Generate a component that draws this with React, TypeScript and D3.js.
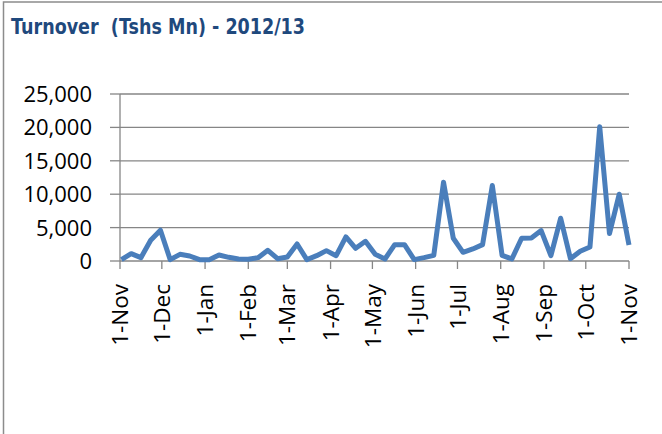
import React from "react";
import * as d3 from "d3";

const title = "Turnover  (Tshs Mn) - 2012/13";

const dates = [
  "2012-11-02", "2012-11-09", "2012-11-16", "2012-11-23", "2012-11-30",
  "2012-12-07", "2012-12-14", "2012-12-21", "2012-12-28",
  "2013-01-04", "2013-01-11", "2013-01-18", "2013-01-25",
  "2013-02-01", "2013-02-08", "2013-02-15", "2013-02-22",
  "2013-03-01", "2013-03-08", "2013-03-15", "2013-03-22", "2013-03-29",
  "2013-04-05", "2013-04-12", "2013-04-19", "2013-04-26",
  "2013-05-03", "2013-05-10", "2013-05-17", "2013-05-24", "2013-05-31",
  "2013-06-07", "2013-06-14", "2013-06-21", "2013-06-28",
  "2013-07-05", "2013-07-12", "2013-07-19", "2013-07-26",
  "2013-08-02", "2013-08-09", "2013-08-16", "2013-08-23", "2013-08-30",
  "2013-09-06", "2013-09-13", "2013-09-20", "2013-09-27",
  "2013-10-04", "2013-10-11", "2013-10-18", "2013-10-25",
  "2013-11-01",
];

const turnover = [
  200, 1100, 500, 3100, 4600,
  200, 1000, 750, 200,
  200, 900, 550, 300,
  250, 500, 1600, 350,
  600, 2550, 200, 800, 1550,
  800, 3600, 1900, 2950,
  1000, 300, 2450, 2450, 200,
  500, 850, 11800, 3400,
  1300, 1800, 2450, 11300,
  850, 300, 3400, 3450, 4550,
  800, 6400, 350, 1450,
  2100, 20100, 4100, 10000,
  2400,
];

const xTickDates = [
  "2012-11-01", "2012-12-01", "2013-01-01", "2013-02-01", "2013-03-01",
  "2013-04-01", "2013-05-01", "2013-06-01", "2013-07-01", "2013-08-01",
  "2013-09-01", "2013-10-01", "2013-11-01",
];

const yTicks = [0, 5000, 10000, 15000, 20000, 25000];

export default function App() {
  const parse = d3.timeParse("%Y-%m-%d");
  const fmtDate = d3.timeFormat("%-d-%b");
  const fmtNum = d3.format(",");

  const x = d3
    .scaleTime()
    .domain([parse("2012-11-01")!, parse("2013-11-01")!])
    .range([120, 629]);
  const y = d3.scaleLinear().domain([0, 25000]).range([261, 94]);

  const pts = dates.map((d, i) => ({ date: parse(d)!, v: turnover[i] }));
  const line = d3
    .line<{ date: Date; v: number }>()
    .x((d) => x(d.date))
    .y((d) => y(d.v));

  const axisColor = "#868686";
  const labelFont = "'Open Sans', 'Noto Sans', sans-serif";

  return (
    <svg
      width={662}
      height={434}
      style={{ position: "absolute", left: 0, top: 0, background: "#fff" }}
    >
      <rect x={0} y={0} width={662} height={434} fill="#fff" />
      {/* frame */}
      <rect
        x={3.5}
        y={2}
        width={700}
        height={500}
        fill="none"
        stroke="#8c8c8c"
        strokeWidth={1.5}
      />
      <text
        x={11}
        y={34}
        fontFamily="'DejaVu Sans', sans-serif"
        fontWeight="bold"
        fontSize={21.5}
        fill="#1F497D"
        textLength={294}
        lengthAdjust="spacingAndGlyphs"
        style={{ whiteSpace: "pre" }}
      >
        {title}
      </text>

      {/* gridlines */}
      {yTicks
        .filter((t) => t > 0)
        .map((t) => (
          <line
            key={"g" + t}
            x1={120}
            x2={629}
            y1={y(t)}
            y2={y(t)}
            stroke={axisColor}
            strokeWidth={1.3}
          />
        ))}
      {/* y axis */}
      <line x1={120} x2={120} y1={y(25000)} y2={y(0)} stroke={axisColor} strokeWidth={1.3} />
      {yTicks.map((t) => (
        <g key={"y" + t}>
          <line x1={110} x2={120} y1={y(t)} y2={y(t)} stroke={axisColor} strokeWidth={1.3} />
          <text
            x={92}
            y={y(t)}
            dy="0.36em"
            textAnchor="end"
            fontFamily={labelFont}
            fontSize={22}
            fill="#000"
          >
            {fmtNum(t)}
          </text>
        </g>
      ))}
      {/* x axis */}
      <line x1={120} x2={629} y1={y(0)} y2={y(0)} stroke={axisColor} strokeWidth={1.3} />
      {xTickDates.map((ds) => {
        const d = parse(ds)!;
        const xp = x(d);
        return (
          <g key={ds}>
            <line x1={xp} x2={xp} y1={y(0)} y2={y(0) + 8} stroke={axisColor} strokeWidth={1.3} />
            <text
              transform={`translate(${xp},284) rotate(-90)`}
              textAnchor="end"
              dy="0.36em"
              fontFamily={labelFont}
              fontSize={22.5}
              fill="#000"
            >
              {fmtDate(d)}
            </text>
          </g>
        );
      })}
      {/* series */}
      <path
        d={line(pts) || ""}
        fill="none"
        stroke="#4A7EBB"
        strokeWidth={5}
        strokeLinejoin="round"
        strokeLinecap="butt"
      />
    </svg>
  );
}
